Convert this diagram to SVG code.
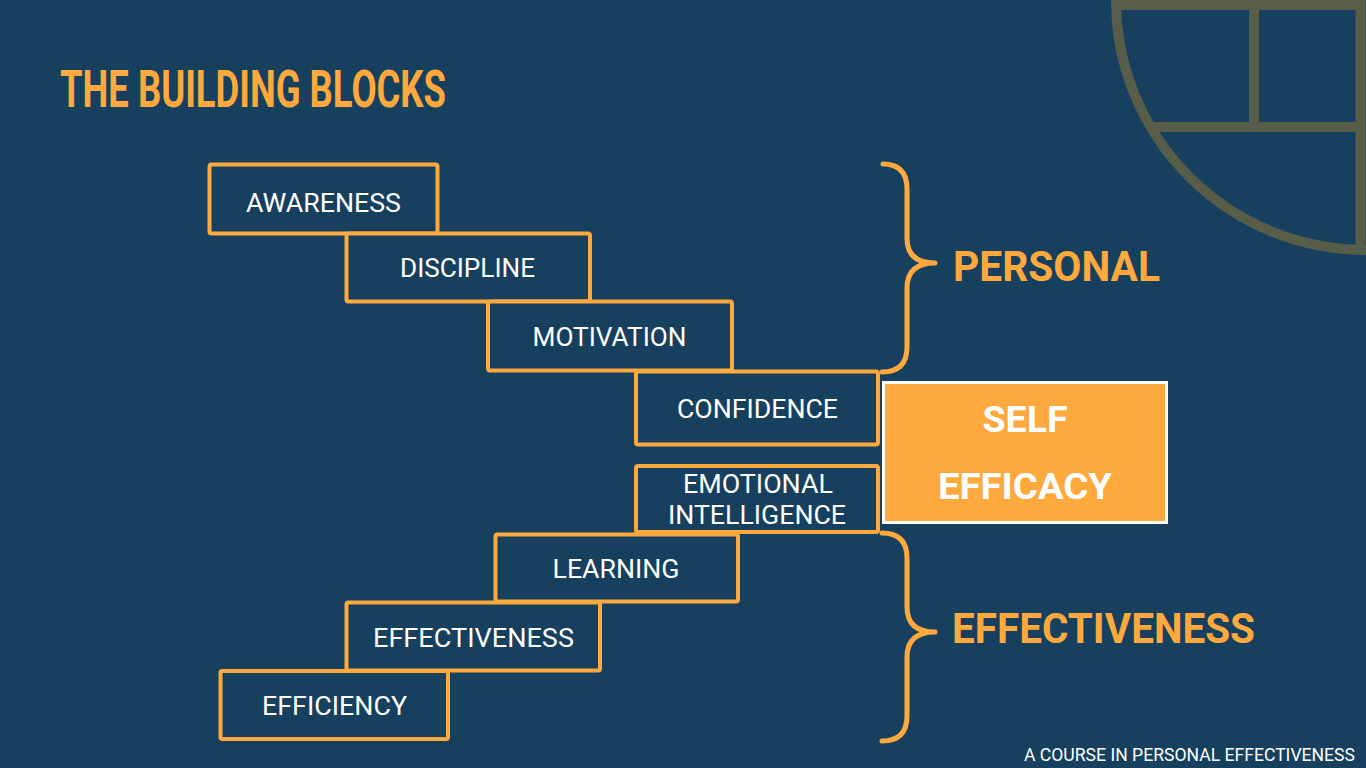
<svg xmlns="http://www.w3.org/2000/svg" width="1366" height="768" viewBox="0 0 1366 768">
<style>
.bg{fill:#16405E}
.deco{fill:none;stroke:#585D4A;stroke-width:10}
.box rect{fill:#16405E;stroke:#FDA93D;stroke-width:4}
.box text{fill:#FFFFFF;font-family:Roboto,"Liberation Sans",sans-serif;font-size:25px;text-anchor:middle}
.brace{fill:none;stroke:#FDA93D;stroke-width:5;stroke-linecap:round;stroke-linejoin:round}
.label{fill:#FDA93D;font-family:Roboto,"Liberation Sans",sans-serif;font-weight:bold;font-size:42px}
.title{fill:#FDA93D;font-family:Roboto,"Liberation Sans",sans-serif;font-weight:bold;font-size:52px}
.se rect{fill:#FDA93D;stroke:#FFFFFF;stroke-width:3}
.se text{fill:#FFFFFF;font-family:Roboto,"Liberation Sans",sans-serif;font-weight:bold;font-size:37px;text-anchor:middle}
.foot{fill:#FFFFFF;font-family:Roboto,"Liberation Sans",sans-serif;font-size:18px}
</style>
<rect class="bg" x="0" y="0" width="1366" height="768"/>
<g id="decoration">
<path class="deco" d="M1116,0 A250,250 0 0 0 1366,250"/>
<path class="deco" d="M1116,5 H1360.5 V250"/>
<path class="deco" d="M1254,5 V127"/>
<path class="deco" d="M1150,127 H1360"/>
</g>
<text class="title" x="60" y="107" textLength="386" lengthAdjust="spacingAndGlyphs">THE BUILDING BLOCKS</text>
<g id="connectors">
<path class="brace" d="M883,164 Q907,164 907,189 L907,238 Q907,263 935,263 Q907,263 907,288 L907,347 Q907,372 882,372"/>
<path class="brace" d="M882,533 Q907,533 907,558 L907,607 Q907,632 935,632 Q907,632 907,657 L907,716 Q907,741 882,741"/>
</g>
<g id="awareness" class="box"><rect x="209.5" y="164.5" width="228" height="69" rx="2"/><text x="323.5" y="212" textLength="155" lengthAdjust="spacingAndGlyphs">AWARENESS</text></g>
<g id="discipline" class="box"><rect x="346.5" y="233.5" width="243.5" height="68" rx="2"/><text x="467.5" y="277" textLength="135" lengthAdjust="spacingAndGlyphs">DISCIPLINE</text></g>
<g id="motivation" class="box"><rect x="488" y="301.5" width="244" height="69" rx="2"/><text x="609.5" y="346" textLength="154" lengthAdjust="spacingAndGlyphs">MOTIVATION</text></g>
<g id="confidence" class="box"><rect x="636" y="371.5" width="242" height="73" rx="2"/><text x="757.5" y="418" textLength="161" lengthAdjust="spacingAndGlyphs">CONFIDENCE</text></g>
<g id="emotional-intelligence" class="box"><rect x="636" y="466" width="242" height="66" rx="2"/><text x="758" y="493" textLength="150" lengthAdjust="spacingAndGlyphs">EMOTIONAL</text><text x="757" y="524" textLength="178" lengthAdjust="spacingAndGlyphs">INTELLIGENCE</text></g>
<g id="learning" class="box"><rect x="495.5" y="534.5" width="242.5" height="67" rx="2"/><text x="616" y="578" textLength="127" lengthAdjust="spacingAndGlyphs">LEARNING</text></g>
<g id="effectiveness" class="box"><rect x="346.5" y="602.5" width="253.5" height="68" rx="2"/><text x="473.5" y="647" textLength="201" lengthAdjust="spacingAndGlyphs">EFFECTIVENESS</text></g>
<g id="efficiency" class="box"><rect x="220.5" y="671" width="227.5" height="68" rx="2"/><text x="334.5" y="715" textLength="145" lengthAdjust="spacingAndGlyphs">EFFICIENCY</text></g>
<g id="self-efficacy" class="se"><rect x="883.5" y="382.5" width="283" height="140"/><text x="1025" y="431.5" textLength="85" lengthAdjust="spacingAndGlyphs">SELF</text><text x="1025" y="499" textLength="174" lengthAdjust="spacingAndGlyphs">EFFICACY</text></g>
<g id="personal-label"><text class="label" x="953" y="281" textLength="207" lengthAdjust="spacingAndGlyphs">PERSONAL</text></g>
<g id="effectiveness-label"><text class="label" x="952" y="643" textLength="303" lengthAdjust="spacingAndGlyphs">EFFECTIVENESS</text></g>
<text class="foot" x="1024" y="761" textLength="331" lengthAdjust="spacingAndGlyphs">A COURSE IN PERSONAL EFFECTIVENESS</text>
</svg>
